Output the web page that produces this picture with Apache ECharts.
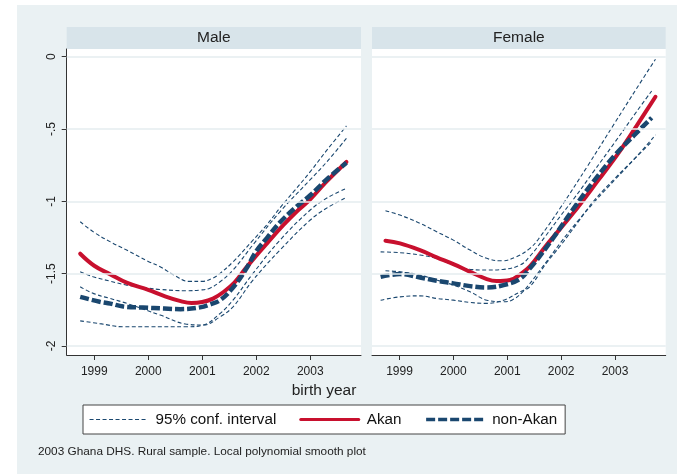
<!DOCTYPE html>
<html>
<head>
<meta charset="utf-8">
<script src="https://cdn.jsdelivr.net/npm/echarts@6/dist/echarts.min.js"></script>
<style>
  html, body { margin: 0; padding: 0; background: #fff; }
  #chart { width: 677px; height: 474px; }
</style>
</head>
<body>
<div id="chart"></div>
<script>
// Local polynomial smooths of the outcome by birth year, Ghana DHS 2003 rural sample.
// Each series: [birth year, smoothed value].

const panels = ['Male', 'Female'];
const xTicks = [1999, 2000, 2001, 2002, 2003];
const yTicks = [-2, -1.5, -1, -0.5, 0];
const yTickLabels = ['-2', '-1.5', '-1', '-.5', '0'];

// Male
const maleAkan = [
  [1998.74, -1.362], [1999.0, -1.445], [1999.3, -1.505], [1999.6, -1.562],
  [2000.0, -1.612], [2000.3, -1.655], [2000.6, -1.69], [2000.8, -1.703],
  [2001.0, -1.696], [2001.2, -1.672], [2001.4, -1.625], [2001.6, -1.56],
  [2001.8, -1.465], [2002.0, -1.375], [2002.2, -1.29], [2002.5, -1.165],
  [2002.75, -1.07], [2003.0, -0.986], [2003.3, -0.864], [2003.67, -0.728]
];
const maleNonAkan = [
  [1998.74, -1.66], [1999.1, -1.694], [1999.3, -1.707], [1999.54, -1.727],
  [1999.9, -1.734], [2000.3, -1.741], [2000.6, -1.745], [2000.96, -1.733],
  [2001.15, -1.712], [2001.33, -1.683], [2001.55, -1.605], [2001.8, -1.475],
  [2002.0, -1.345], [2002.2, -1.252], [2002.44, -1.145], [2002.75, -1.035],
  [2003.0, -0.958], [2003.3, -0.85], [2003.67, -0.733]
];
const maleAkanUpper = [
  [1998.74, -1.141], [1999.0, -1.215], [1999.3, -1.28], [1999.6, -1.337],
  [2000.0, -1.415], [2000.22, -1.452], [2000.5, -1.515], [2000.75, -1.553],
  [2001.0, -1.553], [2001.2, -1.53], [2001.33, -1.498], [2001.57, -1.418],
  [2001.94, -1.268], [2002.2, -1.16], [2002.44, -1.045], [2002.7, -0.93],
  [2003.0, -0.795], [2003.3, -0.65], [2003.67, -0.479]
];
const maleAkanLower = [
  [1998.74, -1.59], [1998.98, -1.636], [1999.3, -1.672], [1999.6, -1.705],
  [2000.22, -1.786], [2000.71, -1.849], [2001.02, -1.855], [2001.33, -1.798],
  [2001.57, -1.729], [2001.94, -1.544], [2002.44, -1.337], [2003.0, -1.129],
  [2003.3, -1.048], [2003.67, -0.973]
];
const maleNonAkanUpper = [
  [1998.74, -1.487], [1998.98, -1.521], [1999.3, -1.552], [1999.6, -1.579],
  [2000.0, -1.6], [2000.22, -1.609], [2000.71, -1.618], [2000.96, -1.613],
  [2001.14, -1.6], [2001.33, -1.556], [2001.57, -1.475], [2001.94, -1.3],
  [2002.44, -1.072], [2003.0, -0.85], [2003.3, -0.73], [2003.67, -0.565]
];
const maleNonAkanLower = [
  [1998.74, -1.826], [1999.1, -1.845], [1999.54, -1.867], [2000.0, -1.867],
  [2000.71, -1.867], [2001.02, -1.855], [2001.33, -1.775], [2001.57, -1.683],
  [2001.94, -1.498], [2002.44, -1.268], [2003.0, -1.06], [2003.3, -0.979],
  [2003.67, -0.91]
];

// Female
const femaleAkan = [
  [1998.74, -1.272], [1999.01, -1.29], [1999.38, -1.337], [1999.69, -1.387],
  [2000.0, -1.434], [2000.31, -1.487], [2000.62, -1.537], [2000.8, -1.551],
  [2001.05, -1.544], [2001.24, -1.505], [2001.42, -1.45], [2001.73, -1.302],
  [2002.22, -1.083], [2002.69, -0.853], [2003.06, -0.668], [2003.4, -0.478],
  [2003.75, -0.277]
];
const femaleNonAkan = [
  [1998.65, -1.521], [1999.01, -1.503], [1999.38, -1.526], [1999.69, -1.549],
  [2000.0, -1.567], [2000.31, -1.586], [2000.62, -1.595], [2000.93, -1.579],
  [2001.24, -1.535], [2001.42, -1.463], [2001.54, -1.41], [2001.85, -1.255],
  [2002.22, -1.055], [2002.62, -0.853], [2003.0, -0.68], [2003.35, -0.545],
  [2003.68, -0.422]
];
const femaleAkanUpper = [
  [1998.74, -1.065], [1999.01, -1.095], [1999.38, -1.152], [1999.69, -1.21],
  [2000.0, -1.268], [2000.31, -1.337], [2000.62, -1.394], [2000.9, -1.411],
  [2001.17, -1.383], [2001.42, -1.325], [2001.6, -1.25], [2001.98, -1.048],
  [2002.5, -0.75], [2003.0, -0.455], [2003.4, -0.22], [2003.75, -0.018]
];
const femaleAkanLower = [
  [1998.74, -1.48], [1999.01, -1.487], [1999.38, -1.51], [1999.69, -1.544],
  [2000.0, -1.579], [2000.31, -1.625], [2000.62, -1.683], [2000.93, -1.694],
  [2001.1, -1.68], [2001.3, -1.62], [2001.6, -1.48], [2002.0, -1.28],
  [2002.3, -1.14], [2002.65, -0.99], [2003.0, -0.85], [2003.4, -0.69],
  [2003.75, -0.541]
];
const femaleNonAkanUpper = [
  [1998.65, -1.349], [1999.01, -1.355], [1999.38, -1.371], [1999.69, -1.394],
  [2000.0, -1.44], [2000.31, -1.47], [2000.62, -1.475], [2000.93, -1.47],
  [2001.24, -1.44], [2001.42, -1.38], [2001.7, -1.245], [2002.0, -1.095],
  [2002.22, -0.99], [2002.6, -0.795], [2003.0, -0.59], [2003.4, -0.38],
  [2003.68, -0.237]
];
const femaleNonAkanLower = [
  [1998.65, -1.683], [1999.01, -1.66], [1999.38, -1.653], [1999.69, -1.671],
  [2000.0, -1.683], [2000.31, -1.699], [2000.62, -1.705], [2000.93, -1.683],
  [2001.24, -1.625], [2001.42, -1.59], [2001.7, -1.44], [2002.0, -1.3],
  [2002.3, -1.15], [2002.6, -1.0], [2003.0, -0.84], [2003.35, -0.71],
  [2003.68, -0.588]
];

const ciName = '95% conf. interval';
const akanName = 'Akan';
const nonAkanName = 'non-Akan';

// Colours and layout
const navy = '#1a476f';
const crimson = '#c8102e';
const gridColor = '#e4ecef';
const bgColor = '#eaf1f3';
const stripColor = '#d8e4ea';
const inkColor = '#222';
const font = 'Liberation Sans, Arial, sans-serif';

const plotTop = 49, plotBottom = 355;
const plotBoxes = [
  { left: 66.7, width: 294.3 },
  { left: 372, width: 293.7 }
];
const xRange = [1998.49, 2003.94];
const yRange = [-2.062, 0.053];

const chart = echarts.init(document.getElementById('chart'), null, { renderer: 'canvas' });

const grids = plotBoxes.map(b => ({
  left: b.left, top: plotTop, width: b.width, height: plotBottom - plotTop,
  show: true, backgroundColor: '#fff', borderWidth: 0
}));

const xAxes = plotBoxes.map((b, i) => ({
  type: 'value', gridIndex: i, min: xRange[0], max: xRange[1], position: 'bottom',
  axisLine: { show: true, onZero: false, lineStyle: { color: '#333', width: 1 } },
  axisTick: { show: true, length: 5, lineStyle: { color: '#333' }, customValues: xTicks },
  axisLabel: {
    show: true, customValues: xTicks, color: inkColor, fontSize: 12, fontFamily: font, margin: 11,
    formatter: v => String(Math.round(v))
  },
  splitLine: { show: false }
}));

const yAxes = plotBoxes.map((b, i) => ({
  type: 'value', gridIndex: i, min: yRange[0], max: yRange[1], position: 'left',
  axisLine: { show: i === 0, onZero: false, lineStyle: { color: '#333', width: 1 } },
  axisTick: { show: i === 0, length: 5, lineStyle: { color: '#333' }, customValues: yTicks },
  axisLabel: {
    show: i === 0, customValues: yTicks, rotate: 90, color: inkColor, fontSize: 12,
    fontFamily: font, margin: 9,
    formatter: v => yTickLabels[yTicks.findIndex(t => Math.abs(t - v) < 1e-6)]
  },
  splitLine: { show: false }
}));

function gridLines(i) {
  return {
    type: 'line', xAxisIndex: i, yAxisIndex: i, data: [], z: 1, silent: true,
    markLine: {
      silent: true, symbol: 'none', animation: false,
      label: { show: false },
      lineStyle: { color: gridColor, width: 1.6, type: 'solid' },
      data: yTicks.map(v => ({ yAxis: v }))
    }
  };
}

function ciLine(data, i) {
  return {
    type: 'line', name: ciName, xAxisIndex: i, yAxisIndex: i, data,
    smooth: 0.4, symbol: 'none', showSymbol: false, z: 2,
    lineStyle: { color: navy, width: 1.1, type: [4, 2.5] }
  };
}
function akanLine(data, i) {
  return {
    type: 'line', name: akanName, xAxisIndex: i, yAxisIndex: i, data,
    smooth: 0.4, symbol: 'none', showSymbol: false, z: 3,
    lineStyle: { color: crimson, width: 4, cap: 'round' }
  };
}
function nonAkanLine(data, i) {
  return {
    type: 'line', name: nonAkanName, xAxisIndex: i, yAxisIndex: i, data,
    smooth: 0.4, symbol: 'none', showSymbol: false, z: 4,
    lineStyle: { color: navy, width: 4.5, type: [9, 3] }
  };
}

const panelData = [
  { akan: maleAkan, non: maleNonAkan,
    ci: [maleAkanUpper, maleAkanLower, maleNonAkanUpper, maleNonAkanLower] },
  { akan: femaleAkan, non: femaleNonAkan,
    ci: [femaleAkanUpper, femaleAkanLower, femaleNonAkanUpper, femaleNonAkanLower] }
];

const series = [];
panelData.forEach((p, i) => {
  series.push(gridLines(i));
  p.ci.forEach(d => series.push(ciLine(d, i)));
  series.push(akanLine(p.akan, i));
  series.push(nonAkanLine(p.non, i));
});

// Panel header strips and surrounding texts
const graphics = [
  { type: 'rect', shape: { x: 0, y: 0, width: 17, height: 474 }, style: { fill: '#fff' }, silent: true },
  { type: 'rect', shape: { x: 0, y: 0, width: 677, height: 5 }, style: { fill: '#fff' }, silent: true }
];
plotBoxes.forEach((b, i) => {
  graphics.push({
    type: 'rect', shape: { x: b.left, y: 27, width: b.width, height: 22 },
    style: { fill: stripColor }, silent: true
  });
  graphics.push({
    type: 'text', x: b.left + b.width / 2, y: 38,
    style: { text: panels[i], fill: inkColor, font: '15.5px ' + font, textAlign: 'center', textVerticalAlign: 'middle' },
    silent: true
  });
});
graphics.push({
  type: 'text', x: 324, y: 391,
  style: { text: 'birth year', fill: inkColor, font: '15.5px ' + font, textAlign: 'center', textVerticalAlign: 'middle' },
  silent: true
});
graphics.push({
  type: 'text', x: 38, y: 452,
  style: { text: '2003 Ghana DHS. Rural sample. Local polynomial smooth plot', fill: inkColor, font: '11.8px ' + font, textAlign: 'left', textVerticalAlign: 'middle' },
  silent: true
});

chart.setOption({
  animation: false,
  backgroundColor: bgColor,
  grid: grids,
  xAxis: xAxes,
  yAxis: yAxes,
  series,
  legend: {
    left: 83, top: 405,
    itemWidth: 58, itemHeight: 14, itemGap: 23,
    padding: [7, 8, 7, 6],
    backgroundColor: '#fff', borderColor: '#444', borderWidth: 1, borderRadius: 0,
    textStyle: { fontSize: 15.2, color: '#111', fontFamily: font, padding: [0, 0, 0, 3] },
    itemStyle: { opacity: 0 },
    data: [
      { name: ciName, lineStyle: { width: 1.1 } },
      { name: akanName, lineStyle: { width: 3 } },
      { name: nonAkanName, lineStyle: { width: 3.5 } }
    ],
    selectedMode: false
  },
  graphic: graphics
});
</script>
</body>
</html>
